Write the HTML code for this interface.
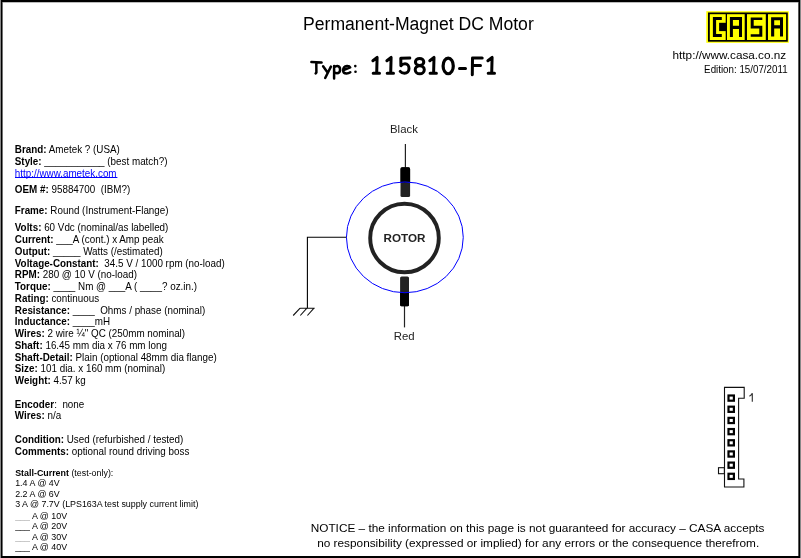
<!DOCTYPE html>
<html><head><meta charset="utf-8">
<style>
html,body{margin:0;padding:0;background:#fff;width:801px;height:558px;overflow:hidden}
svg{display:block;will-change:transform}
text{font-family:"Liberation Sans",sans-serif}
.b{font-weight:bold}
</style></head><body>
<svg width="801" height="558" viewBox="0 0 801 558" xml:space="preserve" style="white-space:pre">
<rect x="0" y="0" width="801" height="558" fill="#fff"/>
<g shape-rendering="crispEdges">
<rect x="0" y="0" width="1" height="558" fill="#888"/>
<rect x="800" y="0" width="1" height="558" fill="#888"/>
<rect x="3" y="2" width="795" height="1" fill="#bbb"/>
<rect x="2" y="2" width="1" height="554" fill="#707070"/>
<rect x="798" y="2" width="1" height="554" fill="#585858"/>
<rect x="1" y="0" width="799" height="2" fill="#000"/>
<rect x="1" y="556" width="799" height="2" fill="#000"/>
<rect x="1" y="0" width="1" height="558" fill="#000"/>
<rect x="799" y="0" width="1" height="558" fill="#000"/>
</g>

<!-- Title -->
<text x="303" y="30.3" font-size="17.6">Permanent-Magnet DC Motor</text>

<!-- url / edition -->
<text x="786.2" y="58.6" font-size="11.75" text-anchor="end">http://www.casa.co.nz</text>
<text x="787.6" y="72.9" font-size="9.78" text-anchor="end" transform="matrix(1 0 0 1.05 0 -3.645)">Edition: 15/07/2011</text>

<!-- Notice -->
<text x="537.6" y="532.1" font-size="11.8" text-anchor="middle">NOTICE – the information on this page is not guaranteed for accuracy – CASA accepts</text>
<text x="538.2" y="546.5" font-size="11.8" text-anchor="middle">no responsibility (expressed or implied) for any errors or the consequence therefrom.</text>



<!-- Type: 115810-F1 (comic-like strokes) -->
<g fill="none" stroke="#000" stroke-linecap="round" stroke-linejoin="round">
<path stroke-width="2.5" d="M311.4 62.1Q316 62.2 321.6 62.6M316.3 62.4L316.4 72.5Q316.2 73.3 315.6 73.4
M323.1 66.3L327.4 72.3M330.9 66.6L325.2 78
M334.1 66L334.1 78.4M334.2 67.3Q335.6 66 337.4 66.1Q340.2 66.4 340.1 70Q339.9 73.3 337 73.3Q335.2 73.2 334.2 72.2
M344.2 69.9L350.2 67.4Q349.5 65.8 347 65.9Q343.1 66.2 343.1 70.5Q343.2 73.6 346.6 73.5Q348.7 73.4 350.3 72.3"/>
<circle cx="355.3" cy="66.1" r="1.3" fill="#000" stroke="none"/>
<circle cx="355.5" cy="71.8" r="1.3" fill="#000" stroke="none"/>
<g transform="translate(0 0.5)">
<path stroke-width="3" d="M372.9 60.2L377.1 56.9L376.7 72.6M373.2 72.7H379.5M386.9 60.2L391.1 56.9L390.7 72.6M387.2 72.7H393.5M429.8 60.2L434.0 56.9L433.6 72.6M430.1 72.7H436.4M487.9 60.2L492.1 56.9L491.7 72.6M488.2 72.7H494.5
M400.8 57.7L409.8 57.5M400.8 57.7L400.9 65.3C402.4 63.6 403.8 63.3 405 63.3C407.5 63.3 409 65.5 409 68C409 70.8 407 72.8 404.5 72.8C402.5 72.8 401 71.9 400.2 70.9
M459.5 67.9H465.5
M472.5 57.6L472.3 74.2M472.5 57.6H482.2M472.4 64.9H480.5"/>
<ellipse cx="419.6" cy="61.4" rx="4.2" ry="3.5" stroke-width="3"/>
<ellipse cx="419.75" cy="69.25" rx="4.55" ry="4.05" stroke-width="3"/>
<ellipse cx="448.2" cy="65.45" rx="5.1" ry="7.8" stroke-width="3.2"/>
</g>
</g>

<!-- Logo -->
<g>
<rect x="706.3" y="11.2" width="82.5" height="31.6" fill="#ff0"/>
<rect x="708" y="12.5" width="79.8" height="29.2" fill="#000"/>
<rect x="709.8" y="14.2" width="15.9" height="25.8" fill="#ff0"/>
<rect x="727" y="14.2" width="17.7" height="25.8" fill="#ff0"/>
<rect x="747" y="14.2" width="18.8" height="25.8" fill="#ff0"/>
<rect x="768" y="14.2" width="18.1" height="25.8" fill="#ff0"/>
<!-- C -->
<path d="M712.9 17.1H721.8V20.1H716.1V34H721.8V37H712.9Z" fill="#000"/>
<rect x="719.1" y="22.8" width="7.6" height="8.3" fill="#000"/>
<!-- A -->
<path d="M729.9 37V17.1H742V37H739V29H732.9V37ZM732.9 20.1V25.7H739V20.1Z" fill="#000" fill-rule="evenodd"/>
<!-- S -->
<path d="M750.7 17.4H762.3V20.1H753.7V25.7H762.3V36.8H750.7V34.3H759.3V28.4H750.7Z" fill="#000"/>
<!-- A -->
<path d="M771.1 36.6V17.2H783V36.6H780V28.4H774.2V36.6ZM774.2 20.2V25.3H780V20.2Z" fill="#000" fill-rule="evenodd"/>
</g>

<!-- Motor diagram -->
<g>
<text x="390" y="132.6" font-size="11.4" fill="#222">Black</text>
<text x="393.7" y="339.6" font-size="11.4" fill="#222">Red</text>
<line x1="405.4" y1="144" x2="405.4" y2="168" stroke="#222" stroke-width="1.2"/>
<line x1="404.5" y1="306" x2="404.5" y2="327.4" stroke="#222" stroke-width="1.2"/>
<rect x="400.5" y="167.3" width="9.6" height="29.8" rx="1.6" fill="#222"/>
<rect x="400.1" y="276.5" width="8.9" height="29.8" rx="1.6" fill="#222"/>
<path d="M400.5 182.4V168.9Q400.5 167.3 402.1 167.3H408.5Q410.1 167.3 410.1 168.9V182.4Z" fill="#000"/>
<path d="M400.1 293V304.7Q400.1 306.3 401.7 306.3H407.4Q409 306.3 409 304.7V293Z" fill="#000"/>
<ellipse cx="404.85" cy="237.35" rx="58.4" ry="55.4" fill="none" stroke="#00f" stroke-width="1"/>
<circle cx="404.5" cy="238" r="34.3" fill="none" stroke="#222" stroke-width="3.9"/>
<text x="404.5" y="242.4" font-size="11.66" font-weight="bold" text-anchor="middle" fill="#222">ROTOR</text>
<path d="M346.4 237.2H307.4V308.2" fill="none" stroke="#000" stroke-width="1.1"/>
<path d="M300.1 308.2H314.7M300.1 308.2L293.2 315.5M306.9 308.2L300.3 315.5M314 308.2L307.4 315.5" fill="none" stroke="#111" stroke-width="1.1"/>
</g>

<!-- Connector -->
<g fill="none" stroke="#111" stroke-width="1.1">
<path d="M744.2 398.3V387.4H724.5V487H743.9V479H738.6V398.3Z"/>
<rect x="718.5" y="467.7" width="5.9" height="6"/>
</g>
<g fill="none" stroke="#000" stroke-width="2.2">
<rect x="728.5" y="395.50" width="5.4" height="5.2"/>
<rect x="728.5" y="406.68" width="5.4" height="5.2"/>
<rect x="728.5" y="417.86" width="5.4" height="5.2"/>
<rect x="728.5" y="429.04" width="5.4" height="5.2"/>
<rect x="728.5" y="440.22" width="5.4" height="5.2"/>
<rect x="728.5" y="451.40" width="5.4" height="5.2"/>
<rect x="728.5" y="462.58" width="5.4" height="5.2"/>
<rect x="728.5" y="473.76" width="5.4" height="5.2"/>
</g>
<path d="M749.4 396.2Q751.6 395 752.3 393.2V401.8" fill="none" stroke="#333" stroke-width="1.15"/>

<!-- Left block -->
<g font-size="9.86">
<text x="14.8" y="152.80" transform="matrix(1 0 0 1.15 0 -22.920)"><tspan class="b">Brand:</tspan> Ametek ? (USA)</text>
<text x="14.8" y="164.80" transform="matrix(1 0 0 1.15 0 -24.720)"><tspan class="b">Style:</tspan> ___________ (best match?)</text>
<text x="14.8" y="177.00" transform="matrix(1 0 0 1.15 0 -26.550)" style="fill:#00f">http://www.ametek.com</text><rect x="15" y="177" width="102.4" height="1" fill="#00f"/>
<text x="14.8" y="192.90" transform="matrix(1 0 0 1.15 0 -28.935)"><tspan class="b">OEM #:</tspan> 95884700&#160; (IBM?)</text>
<text x="14.8" y="214.50" transform="matrix(1 0 0 1.15 0 -32.175)"><tspan class="b">Frame:</tspan> Round (Instrument-Flange)</text>
<text x="14.8" y="231.50" transform="matrix(1 0 0 1.15 0 -34.725)"><tspan class="b">Volts:</tspan> 60 Vdc (nominal/as labelled)</text>
<text x="14.8" y="243.24" transform="matrix(1 0 0 1.15 0 -36.485)"><tspan class="b">Current:</tspan> ___A (cont.) x Amp peak</text>
<text x="14.8" y="254.97" transform="matrix(1 0 0 1.15 0 -38.245)"><tspan class="b">Output:</tspan> _____ Watts (/estimated)</text>
<text x="14.8" y="266.70" transform="matrix(1 0 0 1.15 0 -40.006)"><tspan class="b">Voltage-Constant:</tspan>&#160; 34.5 V / 1000 rpm (no-load)</text>
<text x="14.8" y="278.44" transform="matrix(1 0 0 1.15 0 -41.766)"><tspan class="b">RPM:</tspan> 280 @ 10 V (no-load)</text>
<text x="14.8" y="290.18" transform="matrix(1 0 0 1.15 0 -43.526)"><tspan class="b">Torque:</tspan> ____ Nm @ ___A ( ____? oz.in.)</text>
<text x="14.8" y="301.91" transform="matrix(1 0 0 1.15 0 -45.286)"><tspan class="b">Rating:</tspan> continuous</text>
<text x="14.8" y="313.64" transform="matrix(1 0 0 1.15 0 -47.047)"><tspan class="b">Resistance:</tspan> ____&#160; Ohms / phase (nominal)</text>
<text x="14.8" y="325.38" transform="matrix(1 0 0 1.15 0 -48.807)"><tspan class="b">Inductance:</tspan> ____mH</text>
<text x="14.8" y="337.11" transform="matrix(1 0 0 1.15 0 -50.567)"><tspan class="b">Wires:</tspan> 2 wire ¼" QC (250mm nominal)</text>
<text x="14.8" y="348.85" transform="matrix(1 0 0 1.15 0 -52.327)"><tspan class="b">Shaft:</tspan> 16.45 mm dia x 76 mm long</text>
<text x="14.8" y="360.58" transform="matrix(1 0 0 1.15 0 -54.088)"><tspan class="b">Shaft-Detail:</tspan> Plain (optional 48mm dia flange)</text>
<text x="14.8" y="372.32" transform="matrix(1 0 0 1.15 0 -55.848)"><tspan class="b">Size:</tspan> 101 dia. x 160 mm (nominal)</text>
<text x="14.8" y="384.05" transform="matrix(1 0 0 1.15 0 -57.608)"><tspan class="b">Weight:</tspan> 4.57 kg</text>
<text x="14.8" y="407.70" transform="matrix(1 0 0 1.15 0 -61.155)"><tspan class="b">Encoder</tspan>:&#160; none</text>
<text x="14.8" y="419.20" transform="matrix(1 0 0 1.15 0 -62.880)"><tspan class="b">Wires:</tspan> n/a</text>
<text x="14.8" y="443.00" transform="matrix(1 0 0 1.15 0 -66.450)"><tspan class="b">Condition:</tspan> Used (refurbished / tested)</text>
<text x="14.8" y="455.10" transform="matrix(1 0 0 1.15 0 -68.265)"><tspan class="b">Comments:</tspan> optional round driving boss</text>
</g>
<g font-size="8.9">
<text x="15.2" y="475.8"><tspan class="b">Stall-Current</tspan> (test-only):</text>
<text x="15.2" y="486.4">1.4 A @ 4V</text>
<text x="15.2" y="496.7">2.2 A @ 6V</text>
<text x="15.2" y="507.4">3 A @ 7.7V (LPS163A test supply current limit)</text>
<text x="15.2" y="519"><tspan style="fill:#aaa">___</tspan> A @ 10V</text>
<text x="15.2" y="528.9">___ A @ 20V</text>
<text x="15.2" y="539.6"><tspan style="fill:#aaa">___</tspan> A @ 30V</text>
<text x="15.2" y="549.9">___ A @ 40V</text>
</g>
</svg>
</body></html>
